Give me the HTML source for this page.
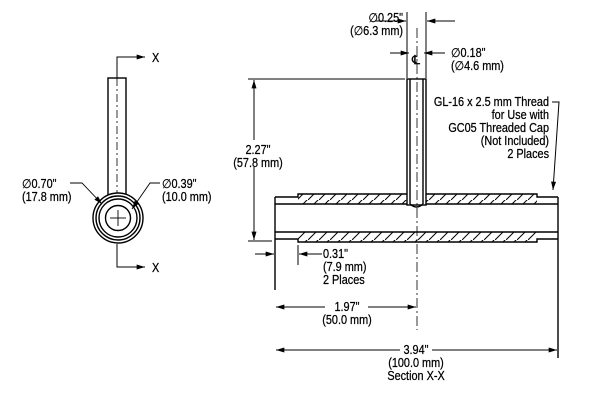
<!DOCTYPE html>
<html><head><style>
body{margin:0;background:#fff}
svg{display:block}
text{font-family:"Liberation Sans",sans-serif;font-size:12.5px;fill:#000;stroke:#000;stroke-width:0.25}
</style></head><body>
<svg width="600" height="400" viewBox="0 0 600 400" xmlns="http://www.w3.org/2000/svg">
<defs>
<marker id="a" viewBox="0 0 10 6" refX="10" refY="3" markerWidth="9" markerHeight="5" orient="auto-start-reverse" markerUnits="userSpaceOnUse"><path d="M0,0L10,3L0,6z" fill="#000"/></marker>
<pattern id="h" width="11" height="10" patternUnits="userSpaceOnUse"><path d="M-2,12L12,-2" stroke="#000" stroke-width="1"/></pattern>
</defs>
<g stroke="#000" fill="none" stroke-width="1.4">
<rect x="108" y="78" width="18" height="118" fill="#fff"/>
<line x1="117" y1="78" x2="117" y2="200" stroke-dasharray="8,3,2,3" stroke-width="0.8"/>
<polyline points="117,78 117,57 145,57" stroke-width="1" marker-end="url(#a)"/>
<polyline points="117,244 117,267 145,267" stroke-width="1" marker-end="url(#a)"/>
<circle cx="118" cy="218" r="25" fill="#fff"/>
<circle cx="118" cy="218" r="22"/>
<circle cx="118" cy="218" r="19"/>
<circle cx="118" cy="218" r="12.5"/>
<line x1="110" y1="218" x2="126" y2="218" stroke-width="0.9"/>
<line x1="118" y1="210" x2="118" y2="226" stroke-width="0.9"/>
<polyline points="70,183 82,183 102,204" stroke-width="0.9" marker-end="url(#a)"/>
<polyline points="160,183 150,183 132,209" stroke-width="0.9" marker-end="url(#a)"/>
<rect x="275" y="194" width="283" height="10" fill="url(#h)" stroke="none"/>
<rect x="275" y="232" width="283" height="10" fill="url(#h)" stroke="none"/>
<rect x="274" y="193" width="24" height="12" fill="#fff" stroke="none"/>
<rect x="537" y="193" width="22" height="12" fill="#fff" stroke="none"/>
<rect x="274" y="231" width="24" height="12" fill="#fff" stroke="none"/>
<rect x="537" y="231" width="22" height="12" fill="#fff" stroke="none"/>
<path d="M275,197 L298,197 L298,194 L537,194 L537,197 L558,197"/>
<path d="M275,239 L298,239 L298,242 L537,242 L537,239 L558,239"/>
<line x1="275" y1="204" x2="558" y2="204"/>
<line x1="275" y1="232" x2="558" y2="232"/>
<line x1="275" y1="197" x2="275" y2="290"/>
<line x1="558" y1="197" x2="558" y2="358"/>
<rect x="407" y="79" width="19" height="126" fill="#fff"/>
<line x1="410" y1="79" x2="410" y2="204"/>
<line x1="423" y1="79" x2="423" y2="204"/>
<path d="M410,204 Q416.5,210 423,204" />
<line x1="417" y1="28" x2="417" y2="330" stroke-dasharray="10,3,2,3" stroke-width="0.8"/>
<g stroke-width="1">
<line x1="248" y1="79" x2="405" y2="79"/>
<line x1="248" y1="241" x2="272" y2="241"/>
<line x1="254" y1="140" x2="254" y2="80" marker-end="url(#a)"/>
<line x1="254" y1="167" x2="254" y2="240" marker-end="url(#a)"/>
<line x1="407" y1="12" x2="407" y2="78"/>
<line x1="426" y1="12" x2="426" y2="78"/>
<line x1="375" y1="21" x2="406" y2="21" marker-end="url(#a)"/>
<line x1="455" y1="21" x2="427" y2="21" marker-end="url(#a)"/>
<line x1="390" y1="53" x2="409" y2="53" marker-end="url(#a)"/>
<line x1="445" y1="53" x2="424" y2="53" marker-end="url(#a)"/>
<line x1="298" y1="245" x2="298" y2="265"/>
<line x1="255" y1="254" x2="274" y2="254" marker-end="url(#a)"/>
<line x1="322" y1="254" x2="299" y2="254" marker-end="url(#a)"/>
<line x1="325" y1="307" x2="276" y2="307" marker-end="url(#a)"/>
<line x1="368" y1="307" x2="416" y2="307" marker-end="url(#a)"/>
<line x1="400" y1="350" x2="276" y2="350" marker-end="url(#a)"/>
<line x1="432" y1="350" x2="557" y2="350" marker-end="url(#a)"/>
<polyline points="552,102 559,102 553,190" marker-end="url(#a)"/>
</g>
</g>
<text transform="translate(152 62) scale(.87 1)">X</text>
<text transform="translate(152 272) scale(.87 1)">X</text>
<text transform="translate(22 188) scale(.87 1)">∅0.70"</text>
<text transform="translate(22 201) scale(.87 1)">(17.8 mm)</text>
<text transform="translate(162 188) scale(.87 1)">∅0.39"</text>
<text transform="translate(162 201) scale(.87 1)">(10.0 mm)</text>
<text transform="translate(403 22) scale(.87 1)" text-anchor="end">∅0.25"</text>
<text transform="translate(403 35) scale(.87 1)" text-anchor="end">(∅6.3 mm)</text>
<text x="412" y="64" font-size="11">℄</text>
<text transform="translate(451 57) scale(.87 1)">∅0.18"</text>
<text transform="translate(451 70) scale(.87 1)">(∅4.6 mm)</text>
<text transform="translate(549 106) scale(.87 1)" text-anchor="end">GL-16 x 2.5 mm Thread</text>
<text transform="translate(549 119) scale(.87 1)" text-anchor="end">for Use with</text>
<text transform="translate(549 132) scale(.87 1)" text-anchor="end">GC05 Threaded Cap</text>
<text transform="translate(549 145) scale(.87 1)" text-anchor="end">(Not Included)</text>
<text transform="translate(549 158) scale(.87 1)" text-anchor="end">2 Places</text>
<text transform="translate(258 154) scale(.87 1)" text-anchor="middle">2.27"</text>
<text transform="translate(258 167) scale(.87 1)" text-anchor="middle">(57.8 mm)</text>
<text transform="translate(323 258) scale(.87 1)">0.31"</text>
<text transform="translate(323 271) scale(.87 1)">(7.9 mm)</text>
<text transform="translate(323 284) scale(.87 1)">2 Places</text>
<text transform="translate(347 311) scale(.87 1)" text-anchor="middle">1.97"</text>
<text transform="translate(347 324) scale(.87 1)" text-anchor="middle">(50.0 mm)</text>
<text transform="translate(416 354) scale(.87 1)" text-anchor="middle">3.94"</text>
<text transform="translate(416 367) scale(.87 1)" text-anchor="middle">(100.0 mm)</text>
<text transform="translate(416 380) scale(.87 1)" text-anchor="middle">Section X-X</text>
</svg>
</body></html>
